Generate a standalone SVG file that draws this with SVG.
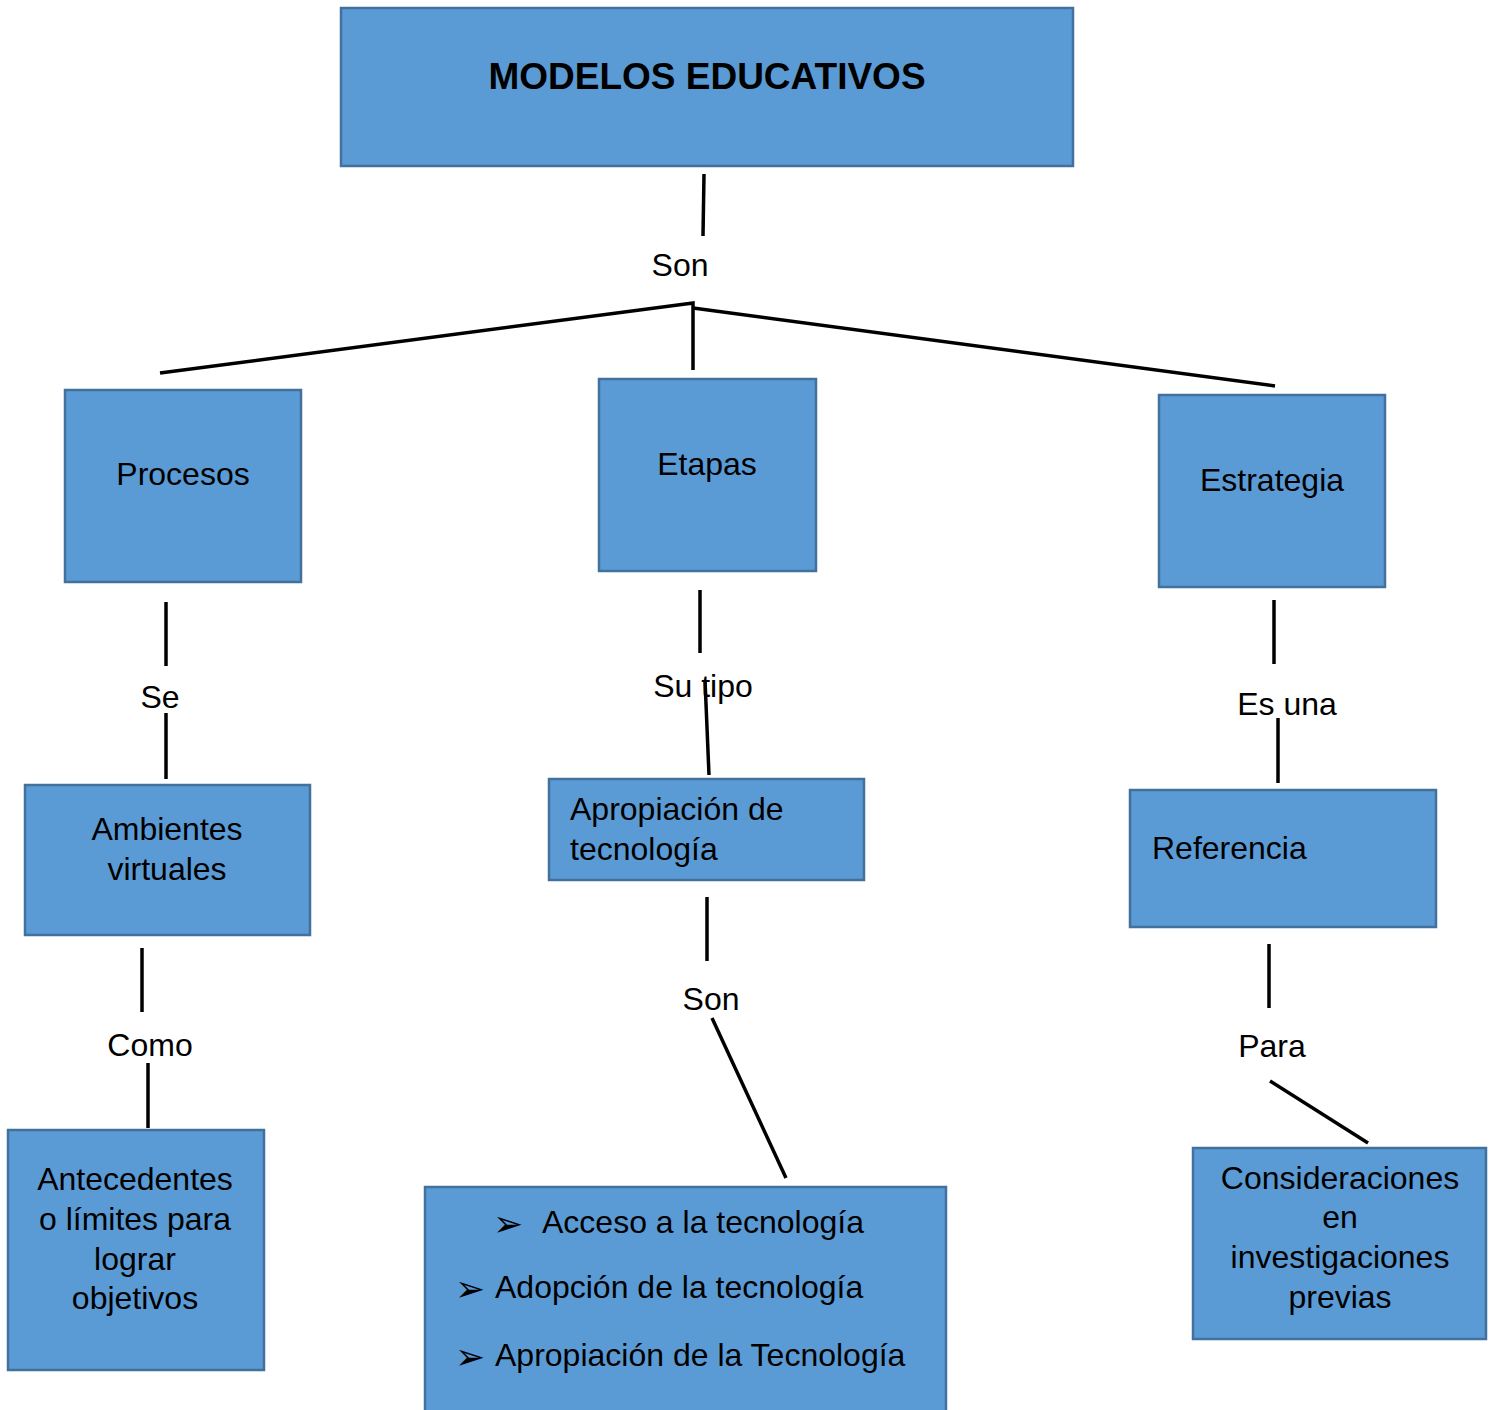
<svg xmlns="http://www.w3.org/2000/svg" width="1490" height="1410" viewBox="0 0 1490 1410">
<style>
.box{fill:#5B9BD5;stroke:#41719C;stroke-width:2.5}
.t{font-family:"Liberation Sans",Arial,sans-serif;font-size:32px;fill:#000}
.c{text-anchor:middle}
.b{font-weight:bold;font-size:37px}
.ar{font-family:"DejaVu Sans",sans-serif;font-size:36px;fill:#000}
.ln{stroke:#000;stroke-width:3.5;fill:none}
</style>
<rect width="1490" height="1410" fill="#fff"/>
<g id="connectors">
<line class="ln" x1="704" y1="174" x2="703" y2="236"/>
<polyline class="ln" points="160,373 693,303 693,370"/>
<line class="ln" x1="693" y1="308" x2="1275" y2="386"/>
<line class="ln" x1="166" y1="602" x2="166" y2="666"/>
<line class="ln" x1="166" y1="713" x2="166" y2="779"/>
<line class="ln" x1="700" y1="590" x2="700" y2="653"/>
<line class="ln" x1="705" y1="680" x2="709" y2="775"/>
<line class="ln" x1="1274" y1="600" x2="1274" y2="664"/>
<line class="ln" x1="1278" y1="718" x2="1278" y2="783"/>
<line class="ln" x1="142" y1="948" x2="142" y2="1012"/>
<line class="ln" x1="148" y1="1063" x2="148" y2="1128"/>
<line class="ln" x1="707" y1="897" x2="707" y2="961"/>
<line class="ln" x1="712" y1="1018" x2="786" y2="1178"/>
<line class="ln" x1="1269" y1="944" x2="1269" y2="1008"/>
<line class="ln" x1="1270" y1="1081" x2="1368" y2="1143"/>
<text class="t c" x="680" y="276">Son</text>
<text class="t c" x="160" y="708">Se</text>
<text class="t c" x="703" y="697">Su tipo</text>
<text class="t c" x="1287" y="715">Es una</text>
<text class="t c" x="150" y="1056">Como</text>
<text class="t c" x="711" y="1010">Son</text>
<text class="t c" x="1272" y="1057">Para</text>
</g>
<g id="modelos">
<rect class="box" x="341" y="8" width="732" height="158"/>
<text class="t c b" x="707" y="89">MODELOS EDUCATIVOS</text>
</g>
<g id="procesos">
<rect class="box" x="65" y="390" width="236" height="192"/>
<text class="t c" x="183" y="485">Procesos</text>
</g>
<g id="etapas">
<rect class="box" x="599" y="379" width="217" height="192"/>
<text class="t c" x="707" y="475">Etapas</text>
</g>
<g id="estrategia">
<rect class="box" x="1159" y="395" width="226" height="192"/>
<text class="t c" x="1272" y="491">Estrategia</text>
</g>
<g id="ambientes">
<rect class="box" x="25" y="785" width="285" height="150"/>
<text class="t c" x="167" y="840">Ambientes</text>
<text class="t c" x="167" y="880">virtuales</text>
</g>
<g id="apropiacion">
<rect class="box" x="549" y="779" width="315" height="101"/>
<text class="t" x="570" y="820">Apropiación de</text>
<text class="t" x="570" y="860">tecnología</text>
</g>
<g id="referencia">
<rect class="box" x="1130" y="790" width="306" height="137"/>
<text class="t" x="1152" y="859">Referencia</text>
</g>
<g id="antecedentes">
<rect class="box" x="8" y="1130" width="256" height="240"/>
<text class="t c" x="135" y="1190">Antecedentes</text>
<text class="t c" x="135" y="1230">o límites para</text>
<text class="t c" x="135" y="1270">lograr</text>
<text class="t c" x="135" y="1309">objetivos</text>
</g>
<g id="lista">
<rect class="box" x="425" y="1187" width="521" height="230"/>
<text class="ar" x="493" y="1236">➢</text>
<text class="t" x="542" y="1233">Acceso a la tecnología</text>
<text class="ar" x="455" y="1301">➢</text>
<text class="t" x="495" y="1298">Adopción de la tecnología</text>
<text class="ar" x="455" y="1369">➢</text>
<text class="t" x="495" y="1366">Apropiación de la Tecnología</text>
</g>
<g id="consideraciones">
<rect class="box" x="1193" y="1148" width="293" height="191"/>
<text class="t c" x="1340" y="1189">Consideraciones</text>
<text class="t c" x="1340" y="1228">en</text>
<text class="t c" x="1340" y="1268">investigaciones</text>
<text class="t c" x="1340" y="1308">previas</text>
</g>
</svg>
